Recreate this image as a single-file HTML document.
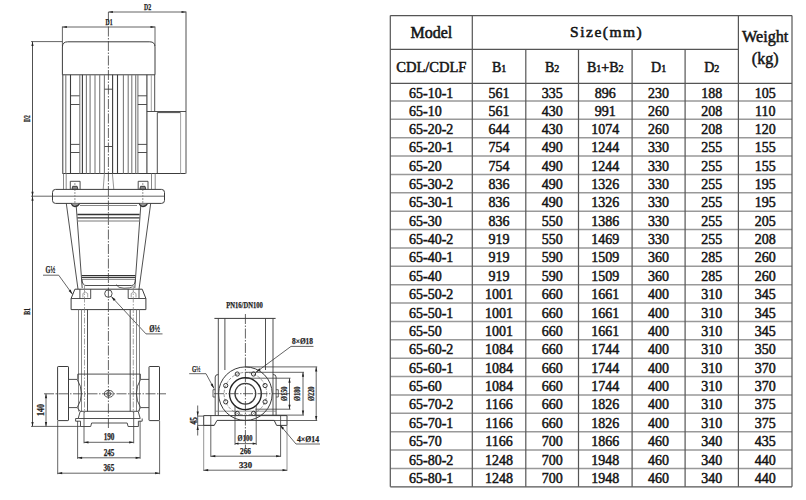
<!DOCTYPE html>
<html><head><meta charset="utf-8">
<style>
html,body{margin:0;padding:0;background:#fff;width:806px;height:500px;overflow:hidden}
svg{display:block;position:absolute;left:0;top:0}
</style></head>
<body>
<svg width="806" height="500" viewBox="0 0 806 500">
<rect width="806" height="500" fill="#fff"/>
<line x1="390.3" y1="15.6" x2="792.0" y2="15.6" stroke="#555" stroke-width="1.2"/>
<line x1="390.3" y1="49.4" x2="738.4" y2="49.4" stroke="#555" stroke-width="1.2"/>
<line x1="390.3" y1="83.3" x2="792.0" y2="83.3" stroke="#555" stroke-width="1.2"/>
<line x1="390.3" y1="486.8" x2="792.0" y2="486.8" stroke="#555" stroke-width="1.2"/>
<line x1="390.3" y1="101.0" x2="792.0" y2="101.0" stroke="#999" stroke-width="1.5"/>
<line x1="390.3" y1="119.37142857142857" x2="792.0" y2="119.37142857142857" stroke="#999" stroke-width="1.5"/>
<line x1="390.3" y1="137.74285714285713" x2="792.0" y2="137.74285714285713" stroke="#999" stroke-width="1.5"/>
<line x1="390.3" y1="156.11428571428573" x2="792.0" y2="156.11428571428573" stroke="#999" stroke-width="1.5"/>
<line x1="390.3" y1="174.4857142857143" x2="792.0" y2="174.4857142857143" stroke="#999" stroke-width="1.5"/>
<line x1="390.3" y1="192.85714285714286" x2="792.0" y2="192.85714285714286" stroke="#999" stroke-width="1.5"/>
<line x1="390.3" y1="211.22857142857146" x2="792.0" y2="211.22857142857146" stroke="#999" stroke-width="1.5"/>
<line x1="390.3" y1="229.60000000000002" x2="792.0" y2="229.60000000000002" stroke="#999" stroke-width="1.5"/>
<line x1="390.3" y1="247.9714285714286" x2="792.0" y2="247.9714285714286" stroke="#999" stroke-width="1.5"/>
<line x1="390.3" y1="266.34285714285716" x2="792.0" y2="266.34285714285716" stroke="#999" stroke-width="1.5"/>
<line x1="390.3" y1="284.7142857142857" x2="792.0" y2="284.7142857142857" stroke="#999" stroke-width="1.5"/>
<line x1="390.3" y1="303.0857142857143" x2="792.0" y2="303.0857142857143" stroke="#999" stroke-width="1.5"/>
<line x1="390.3" y1="321.4571428571429" x2="792.0" y2="321.4571428571429" stroke="#999" stroke-width="1.5"/>
<line x1="390.3" y1="339.8285714285714" x2="792.0" y2="339.8285714285714" stroke="#999" stroke-width="1.5"/>
<line x1="390.3" y1="358.20000000000005" x2="792.0" y2="358.20000000000005" stroke="#999" stroke-width="1.5"/>
<line x1="390.3" y1="376.5714285714286" x2="792.0" y2="376.5714285714286" stroke="#999" stroke-width="1.5"/>
<line x1="390.3" y1="394.9428571428572" x2="792.0" y2="394.9428571428572" stroke="#999" stroke-width="1.5"/>
<line x1="390.3" y1="413.31428571428575" x2="792.0" y2="413.31428571428575" stroke="#999" stroke-width="1.5"/>
<line x1="390.3" y1="431.6857142857143" x2="792.0" y2="431.6857142857143" stroke="#999" stroke-width="1.5"/>
<line x1="390.3" y1="450.0571428571429" x2="792.0" y2="450.0571428571429" stroke="#999" stroke-width="1.5"/>
<line x1="390.3" y1="468.42857142857144" x2="792.0" y2="468.42857142857144" stroke="#999" stroke-width="1.5"/>
<line x1="390.3" y1="15.6" x2="390.3" y2="486.8" stroke="#555" stroke-width="1.2"/>
<line x1="472.3" y1="15.6" x2="472.3" y2="486.8" stroke="#555" stroke-width="1.2"/>
<line x1="525.8" y1="49.4" x2="525.8" y2="486.8" stroke="#555" stroke-width="1.2"/>
<line x1="578.5" y1="49.4" x2="578.5" y2="486.8" stroke="#555" stroke-width="1.2"/>
<line x1="632.1" y1="49.4" x2="632.1" y2="486.8" stroke="#555" stroke-width="1.2"/>
<line x1="685.1" y1="49.4" x2="685.1" y2="486.8" stroke="#555" stroke-width="1.2"/>
<line x1="738.4" y1="15.6" x2="738.4" y2="486.8" stroke="#555" stroke-width="1.2"/>
<line x1="792.0" y1="15.6" x2="792.0" y2="486.8" stroke="#555" stroke-width="1.2"/>
<g font-family="Liberation Serif, serif" fill="#151515" stroke="#151515" stroke-width="0.5" font-weight="normal"><text x="431.3" y="38" font-size="16" text-anchor="middle" stroke-width="0.55">Model</text>
<text x="606.65" y="37" font-size="15.5" text-anchor="middle" letter-spacing="1.5" stroke-width="0.55">Size(mm)</text>
<text x="765.2" y="42" font-size="16.2" text-anchor="middle" >Weight</text>
<text x="765.2" y="64.3" font-size="16" text-anchor="middle" >(kg)</text>
<text x="431.3" y="71.5" font-size="14.5" text-anchor="middle" >CDL/CDLF</text>
<text x="499.04999999999995" y="71.5" font-size="14" text-anchor="middle">B<tspan font-size="10">1</tspan></text>
<text x="552.15" y="71.5" font-size="14" text-anchor="middle">B<tspan font-size="10">2</tspan></text>
<text x="605.3" y="71.5" font-size="14" text-anchor="middle">B<tspan font-size="10">1</tspan>+B<tspan font-size="10">2</tspan></text>
<text x="658.6" y="71.5" font-size="14" text-anchor="middle">D<tspan font-size="10">1</tspan></text>
<text x="711.75" y="71.5" font-size="14" text-anchor="middle">D<tspan font-size="10">2</tspan></text>
<text x="409" y="97.8" font-size="14" text-anchor="start" >65-10-1</text>
<text x="499.04999999999995" y="97.8" font-size="14" text-anchor="middle" >561</text>
<text x="552.15" y="97.8" font-size="14" text-anchor="middle" >335</text>
<text x="605.3" y="97.8" font-size="14" text-anchor="middle" >896</text>
<text x="658.6" y="97.8" font-size="14" text-anchor="middle" >230</text>
<text x="711.75" y="97.8" font-size="14" text-anchor="middle" >188</text>
<text x="765.2" y="97.8" font-size="14" text-anchor="middle" >105</text>
<text x="409" y="115.5" font-size="14" text-anchor="start" >65-10</text>
<text x="499.04999999999995" y="115.5" font-size="14" text-anchor="middle" >561</text>
<text x="552.15" y="115.5" font-size="14" text-anchor="middle" >430</text>
<text x="605.3" y="115.5" font-size="14" text-anchor="middle" >991</text>
<text x="658.6" y="115.5" font-size="14" text-anchor="middle" >260</text>
<text x="711.75" y="115.5" font-size="14" text-anchor="middle" >208</text>
<text x="765.2" y="115.5" font-size="14" text-anchor="middle" >110</text>
<text x="409" y="133.87142857142857" font-size="14" text-anchor="start" >65-20-2</text>
<text x="499.04999999999995" y="133.87142857142857" font-size="14" text-anchor="middle" >644</text>
<text x="552.15" y="133.87142857142857" font-size="14" text-anchor="middle" >430</text>
<text x="605.3" y="133.87142857142857" font-size="14" text-anchor="middle" >1074</text>
<text x="658.6" y="133.87142857142857" font-size="14" text-anchor="middle" >260</text>
<text x="711.75" y="133.87142857142857" font-size="14" text-anchor="middle" >208</text>
<text x="765.2" y="133.87142857142857" font-size="14" text-anchor="middle" >120</text>
<text x="409" y="152.24285714285713" font-size="14" text-anchor="start" >65-20-1</text>
<text x="499.04999999999995" y="152.24285714285713" font-size="14" text-anchor="middle" >754</text>
<text x="552.15" y="152.24285714285713" font-size="14" text-anchor="middle" >490</text>
<text x="605.3" y="152.24285714285713" font-size="14" text-anchor="middle" >1244</text>
<text x="658.6" y="152.24285714285713" font-size="14" text-anchor="middle" >330</text>
<text x="711.75" y="152.24285714285713" font-size="14" text-anchor="middle" >255</text>
<text x="765.2" y="152.24285714285713" font-size="14" text-anchor="middle" >155</text>
<text x="409" y="170.61428571428573" font-size="14" text-anchor="start" >65-20</text>
<text x="499.04999999999995" y="170.61428571428573" font-size="14" text-anchor="middle" >754</text>
<text x="552.15" y="170.61428571428573" font-size="14" text-anchor="middle" >490</text>
<text x="605.3" y="170.61428571428573" font-size="14" text-anchor="middle" >1244</text>
<text x="658.6" y="170.61428571428573" font-size="14" text-anchor="middle" >330</text>
<text x="711.75" y="170.61428571428573" font-size="14" text-anchor="middle" >255</text>
<text x="765.2" y="170.61428571428573" font-size="14" text-anchor="middle" >155</text>
<text x="409" y="188.9857142857143" font-size="14" text-anchor="start" >65-30-2</text>
<text x="499.04999999999995" y="188.9857142857143" font-size="14" text-anchor="middle" >836</text>
<text x="552.15" y="188.9857142857143" font-size="14" text-anchor="middle" >490</text>
<text x="605.3" y="188.9857142857143" font-size="14" text-anchor="middle" >1326</text>
<text x="658.6" y="188.9857142857143" font-size="14" text-anchor="middle" >330</text>
<text x="711.75" y="188.9857142857143" font-size="14" text-anchor="middle" >255</text>
<text x="765.2" y="188.9857142857143" font-size="14" text-anchor="middle" >195</text>
<text x="409" y="207.35714285714286" font-size="14" text-anchor="start" >65-30-1</text>
<text x="499.04999999999995" y="207.35714285714286" font-size="14" text-anchor="middle" >836</text>
<text x="552.15" y="207.35714285714286" font-size="14" text-anchor="middle" >490</text>
<text x="605.3" y="207.35714285714286" font-size="14" text-anchor="middle" >1326</text>
<text x="658.6" y="207.35714285714286" font-size="14" text-anchor="middle" >330</text>
<text x="711.75" y="207.35714285714286" font-size="14" text-anchor="middle" >255</text>
<text x="765.2" y="207.35714285714286" font-size="14" text-anchor="middle" >195</text>
<text x="409" y="225.72857142857146" font-size="14" text-anchor="start" >65-30</text>
<text x="499.04999999999995" y="225.72857142857146" font-size="14" text-anchor="middle" >836</text>
<text x="552.15" y="225.72857142857146" font-size="14" text-anchor="middle" >550</text>
<text x="605.3" y="225.72857142857146" font-size="14" text-anchor="middle" >1386</text>
<text x="658.6" y="225.72857142857146" font-size="14" text-anchor="middle" >330</text>
<text x="711.75" y="225.72857142857146" font-size="14" text-anchor="middle" >255</text>
<text x="765.2" y="225.72857142857146" font-size="14" text-anchor="middle" >205</text>
<text x="409" y="244.10000000000002" font-size="14" text-anchor="start" >65-40-2</text>
<text x="499.04999999999995" y="244.10000000000002" font-size="14" text-anchor="middle" >919</text>
<text x="552.15" y="244.10000000000002" font-size="14" text-anchor="middle" >550</text>
<text x="605.3" y="244.10000000000002" font-size="14" text-anchor="middle" >1469</text>
<text x="658.6" y="244.10000000000002" font-size="14" text-anchor="middle" >330</text>
<text x="711.75" y="244.10000000000002" font-size="14" text-anchor="middle" >255</text>
<text x="765.2" y="244.10000000000002" font-size="14" text-anchor="middle" >208</text>
<text x="409" y="262.4714285714286" font-size="14" text-anchor="start" >65-40-1</text>
<text x="499.04999999999995" y="262.4714285714286" font-size="14" text-anchor="middle" >919</text>
<text x="552.15" y="262.4714285714286" font-size="14" text-anchor="middle" >590</text>
<text x="605.3" y="262.4714285714286" font-size="14" text-anchor="middle" >1509</text>
<text x="658.6" y="262.4714285714286" font-size="14" text-anchor="middle" >360</text>
<text x="711.75" y="262.4714285714286" font-size="14" text-anchor="middle" >285</text>
<text x="765.2" y="262.4714285714286" font-size="14" text-anchor="middle" >260</text>
<text x="409" y="280.84285714285716" font-size="14" text-anchor="start" >65-40</text>
<text x="499.04999999999995" y="280.84285714285716" font-size="14" text-anchor="middle" >919</text>
<text x="552.15" y="280.84285714285716" font-size="14" text-anchor="middle" >590</text>
<text x="605.3" y="280.84285714285716" font-size="14" text-anchor="middle" >1509</text>
<text x="658.6" y="280.84285714285716" font-size="14" text-anchor="middle" >360</text>
<text x="711.75" y="280.84285714285716" font-size="14" text-anchor="middle" >285</text>
<text x="765.2" y="280.84285714285716" font-size="14" text-anchor="middle" >260</text>
<text x="409" y="299.2142857142857" font-size="14" text-anchor="start" >65-50-2</text>
<text x="499.04999999999995" y="299.2142857142857" font-size="14" text-anchor="middle" >1001</text>
<text x="552.15" y="299.2142857142857" font-size="14" text-anchor="middle" >660</text>
<text x="605.3" y="299.2142857142857" font-size="14" text-anchor="middle" >1661</text>
<text x="658.6" y="299.2142857142857" font-size="14" text-anchor="middle" >400</text>
<text x="711.75" y="299.2142857142857" font-size="14" text-anchor="middle" >310</text>
<text x="765.2" y="299.2142857142857" font-size="14" text-anchor="middle" >345</text>
<text x="409" y="317.5857142857143" font-size="14" text-anchor="start" >65-50-1</text>
<text x="499.04999999999995" y="317.5857142857143" font-size="14" text-anchor="middle" >1001</text>
<text x="552.15" y="317.5857142857143" font-size="14" text-anchor="middle" >660</text>
<text x="605.3" y="317.5857142857143" font-size="14" text-anchor="middle" >1661</text>
<text x="658.6" y="317.5857142857143" font-size="14" text-anchor="middle" >400</text>
<text x="711.75" y="317.5857142857143" font-size="14" text-anchor="middle" >310</text>
<text x="765.2" y="317.5857142857143" font-size="14" text-anchor="middle" >345</text>
<text x="409" y="335.9571428571429" font-size="14" text-anchor="start" >65-50</text>
<text x="499.04999999999995" y="335.9571428571429" font-size="14" text-anchor="middle" >1001</text>
<text x="552.15" y="335.9571428571429" font-size="14" text-anchor="middle" >660</text>
<text x="605.3" y="335.9571428571429" font-size="14" text-anchor="middle" >1661</text>
<text x="658.6" y="335.9571428571429" font-size="14" text-anchor="middle" >400</text>
<text x="711.75" y="335.9571428571429" font-size="14" text-anchor="middle" >310</text>
<text x="765.2" y="335.9571428571429" font-size="14" text-anchor="middle" >345</text>
<text x="409" y="354.3285714285714" font-size="14" text-anchor="start" >65-60-2</text>
<text x="499.04999999999995" y="354.3285714285714" font-size="14" text-anchor="middle" >1084</text>
<text x="552.15" y="354.3285714285714" font-size="14" text-anchor="middle" >660</text>
<text x="605.3" y="354.3285714285714" font-size="14" text-anchor="middle" >1744</text>
<text x="658.6" y="354.3285714285714" font-size="14" text-anchor="middle" >400</text>
<text x="711.75" y="354.3285714285714" font-size="14" text-anchor="middle" >310</text>
<text x="765.2" y="354.3285714285714" font-size="14" text-anchor="middle" >350</text>
<text x="409" y="372.70000000000005" font-size="14" text-anchor="start" >65-60-1</text>
<text x="499.04999999999995" y="372.70000000000005" font-size="14" text-anchor="middle" >1084</text>
<text x="552.15" y="372.70000000000005" font-size="14" text-anchor="middle" >660</text>
<text x="605.3" y="372.70000000000005" font-size="14" text-anchor="middle" >1744</text>
<text x="658.6" y="372.70000000000005" font-size="14" text-anchor="middle" >400</text>
<text x="711.75" y="372.70000000000005" font-size="14" text-anchor="middle" >310</text>
<text x="765.2" y="372.70000000000005" font-size="14" text-anchor="middle" >370</text>
<text x="409" y="391.0714285714286" font-size="14" text-anchor="start" >65-60</text>
<text x="499.04999999999995" y="391.0714285714286" font-size="14" text-anchor="middle" >1084</text>
<text x="552.15" y="391.0714285714286" font-size="14" text-anchor="middle" >660</text>
<text x="605.3" y="391.0714285714286" font-size="14" text-anchor="middle" >1744</text>
<text x="658.6" y="391.0714285714286" font-size="14" text-anchor="middle" >400</text>
<text x="711.75" y="391.0714285714286" font-size="14" text-anchor="middle" >310</text>
<text x="765.2" y="391.0714285714286" font-size="14" text-anchor="middle" >370</text>
<text x="409" y="409.4428571428572" font-size="14" text-anchor="start" >65-70-2</text>
<text x="499.04999999999995" y="409.4428571428572" font-size="14" text-anchor="middle" >1166</text>
<text x="552.15" y="409.4428571428572" font-size="14" text-anchor="middle" >660</text>
<text x="605.3" y="409.4428571428572" font-size="14" text-anchor="middle" >1826</text>
<text x="658.6" y="409.4428571428572" font-size="14" text-anchor="middle" >400</text>
<text x="711.75" y="409.4428571428572" font-size="14" text-anchor="middle" >310</text>
<text x="765.2" y="409.4428571428572" font-size="14" text-anchor="middle" >375</text>
<text x="409" y="427.81428571428575" font-size="14" text-anchor="start" >65-70-1</text>
<text x="499.04999999999995" y="427.81428571428575" font-size="14" text-anchor="middle" >1166</text>
<text x="552.15" y="427.81428571428575" font-size="14" text-anchor="middle" >660</text>
<text x="605.3" y="427.81428571428575" font-size="14" text-anchor="middle" >1826</text>
<text x="658.6" y="427.81428571428575" font-size="14" text-anchor="middle" >400</text>
<text x="711.75" y="427.81428571428575" font-size="14" text-anchor="middle" >310</text>
<text x="765.2" y="427.81428571428575" font-size="14" text-anchor="middle" >375</text>
<text x="409" y="446.1857142857143" font-size="14" text-anchor="start" >65-70</text>
<text x="499.04999999999995" y="446.1857142857143" font-size="14" text-anchor="middle" >1166</text>
<text x="552.15" y="446.1857142857143" font-size="14" text-anchor="middle" >700</text>
<text x="605.3" y="446.1857142857143" font-size="14" text-anchor="middle" >1866</text>
<text x="658.6" y="446.1857142857143" font-size="14" text-anchor="middle" >460</text>
<text x="711.75" y="446.1857142857143" font-size="14" text-anchor="middle" >340</text>
<text x="765.2" y="446.1857142857143" font-size="14" text-anchor="middle" >435</text>
<text x="409" y="464.5571428571429" font-size="14" text-anchor="start" >65-80-2</text>
<text x="499.04999999999995" y="464.5571428571429" font-size="14" text-anchor="middle" >1248</text>
<text x="552.15" y="464.5571428571429" font-size="14" text-anchor="middle" >700</text>
<text x="605.3" y="464.5571428571429" font-size="14" text-anchor="middle" >1948</text>
<text x="658.6" y="464.5571428571429" font-size="14" text-anchor="middle" >460</text>
<text x="711.75" y="464.5571428571429" font-size="14" text-anchor="middle" >340</text>
<text x="765.2" y="464.5571428571429" font-size="14" text-anchor="middle" >440</text>
<text x="409" y="482.92857142857144" font-size="14" text-anchor="start" >65-80-1</text>
<text x="499.04999999999995" y="482.92857142857144" font-size="14" text-anchor="middle" >1248</text>
<text x="552.15" y="482.92857142857144" font-size="14" text-anchor="middle" >700</text>
<text x="605.3" y="482.92857142857144" font-size="14" text-anchor="middle" >1948</text>
<text x="658.6" y="482.92857142857144" font-size="14" text-anchor="middle" >460</text>
<text x="711.75" y="482.92857142857144" font-size="14" text-anchor="middle" >340</text>
<text x="765.2" y="482.92857142857144" font-size="14" text-anchor="middle" >440</text></g>
<g font-family="Liberation Serif, serif" stroke-linecap="butt">
<line x1="108.40" y1="12.00" x2="108.40" y2="428.00" stroke="#3c3c3c" stroke-width="0.8" stroke-dasharray="10 1.5 1.5 1.5"/>
<line x1="108.40" y1="12.00" x2="186.00" y2="12.00" stroke="#3c3c3c" stroke-width="0.8"/>
<path d="M108.40,12.00 L112.90,10.90 L112.90,13.10 Z" fill="#222" stroke="none"/>
<path d="M186.00,12.00 L181.50,13.10 L181.50,10.90 Z" fill="#222" stroke="none"/>
<text x="147.6" y="10.2" font-size="9" text-anchor="middle" fill="#1e1e1e" stroke="#1e1e1e" stroke-width="0.25" font-weight="bold" textLength="7.2" lengthAdjust="spacingAndGlyphs">D2</text>
<line x1="186.00" y1="11.50" x2="186.00" y2="173.60" stroke="#3c3c3c" stroke-width="0.9"/>
<line x1="62.40" y1="27.00" x2="155.00" y2="27.00" stroke="#3c3c3c" stroke-width="0.8"/>
<path d="M62.40,27.00 L66.90,25.90 L66.90,28.10 Z" fill="#222" stroke="none"/>
<path d="M155.00,27.00 L150.50,28.10 L150.50,25.90 Z" fill="#222" stroke="none"/>
<text x="109" y="25.2" font-size="9" text-anchor="middle" fill="#1e1e1e" stroke="#1e1e1e" stroke-width="0.25" font-weight="bold" textLength="7" lengthAdjust="spacingAndGlyphs">D1</text>
<line x1="62.40" y1="26.50" x2="62.40" y2="46.00" stroke="#3c3c3c" stroke-width="0.8"/>
<line x1="155.00" y1="26.50" x2="155.00" y2="46.00" stroke="#3c3c3c" stroke-width="0.8"/>
<line x1="31.00" y1="41.60" x2="62.40" y2="41.60" stroke="#3c3c3c" stroke-width="0.8"/>
<line x1="32.50" y1="41.60" x2="32.50" y2="426.40" stroke="#3c3c3c" stroke-width="0.9"/>
<path d="M32.50,41.60 L33.60,46.10 L31.40,46.10 Z" fill="#222" stroke="none"/>
<path d="M32.50,196.20 L31.40,191.70 L33.60,191.70 Z" fill="#222" stroke="none"/>
<path d="M32.50,196.20 L33.60,200.70 L31.40,200.70 Z" fill="#222" stroke="none"/>
<path d="M32.50,426.40 L31.40,421.90 L33.60,421.90 Z" fill="#222" stroke="none"/>
<line x1="31.00" y1="196.20" x2="164.50" y2="196.20" stroke="#3c3c3c" stroke-width="0.8"/>
<line x1="31.00" y1="426.40" x2="80.50" y2="426.40" stroke="#3c3c3c" stroke-width="0.8"/>
<text x="29.8" y="118.6" font-size="9" text-anchor="middle" fill="#1e1e1e" stroke="#1e1e1e" stroke-width="0.25" font-weight="bold" textLength="6.8" lengthAdjust="spacingAndGlyphs" transform="rotate(-90 29.8 118.6)">D2</text>
<text x="30" y="311.4" font-size="9" text-anchor="middle" fill="#1e1e1e" stroke="#1e1e1e" stroke-width="0.25" font-weight="bold" textLength="6.8" lengthAdjust="spacingAndGlyphs" transform="rotate(-90 30 311.4)">B1</text>
<path d="M62.4,74.8 V47 Q62.4,41.8 67.6,41.8 H149.8 Q155,41.8 155,47 V74.8" stroke="#3c3c3c" stroke-width="1.0" fill="none"/>
<line x1="62.40" y1="74.80" x2="155.00" y2="74.80" stroke="#3c3c3c" stroke-width="1.0"/>
<line x1="62.80" y1="74.80" x2="62.80" y2="173.50" stroke="#3c3c3c" stroke-width="1.0"/>
<line x1="62.50" y1="173.50" x2="185.60" y2="173.50" stroke="#3c3c3c" stroke-width="1.0"/>
<line x1="65.80" y1="74.80" x2="65.80" y2="173.50" stroke="#7a7a7a" stroke-width="1.1"/>
<line x1="70.50" y1="74.80" x2="70.50" y2="173.50" stroke="#3c3c3c" stroke-width="1.1"/>
<line x1="79.80" y1="74.80" x2="79.80" y2="173.50" stroke="#7a7a7a" stroke-width="1.1"/>
<line x1="82.40" y1="74.80" x2="82.40" y2="173.50" stroke="#3c3c3c" stroke-width="1.1"/>
<line x1="86.40" y1="74.80" x2="86.40" y2="173.50" stroke="#7a7a7a" stroke-width="1.1"/>
<line x1="90.10" y1="74.80" x2="90.10" y2="173.50" stroke="#7a7a7a" stroke-width="1.1"/>
<line x1="95.00" y1="74.80" x2="95.00" y2="173.50" stroke="#7a7a7a" stroke-width="1.1"/>
<line x1="99.70" y1="74.80" x2="99.70" y2="173.50" stroke="#7a7a7a" stroke-width="1.1"/>
<line x1="104.40" y1="74.80" x2="104.40" y2="173.50" stroke="#7a7a7a" stroke-width="1.1"/>
<line x1="112.60" y1="74.80" x2="112.60" y2="173.50" stroke="#3c3c3c" stroke-width="1.1"/>
<line x1="117.50" y1="74.80" x2="117.50" y2="173.50" stroke="#3c3c3c" stroke-width="1.1"/>
<line x1="123.40" y1="74.80" x2="123.40" y2="173.50" stroke="#7a7a7a" stroke-width="1.1"/>
<line x1="128.20" y1="74.80" x2="128.20" y2="173.50" stroke="#7a7a7a" stroke-width="1.1"/>
<line x1="131.80" y1="74.80" x2="131.80" y2="173.50" stroke="#7a7a7a" stroke-width="1.1"/>
<line x1="135.70" y1="74.80" x2="135.70" y2="173.50" stroke="#7a7a7a" stroke-width="1.1"/>
<line x1="137.90" y1="74.80" x2="137.90" y2="173.50" stroke="#7a7a7a" stroke-width="1.1"/>
<line x1="146.90" y1="74.80" x2="146.90" y2="173.50" stroke="#3c3c3c" stroke-width="1.1"/>
<line x1="151.30" y1="74.80" x2="151.30" y2="111.50" stroke="#9a9a9a" stroke-width="0.9"/>
<line x1="154.70" y1="74.80" x2="154.70" y2="111.50" stroke="#3c3c3c" stroke-width="0.9"/>
<line x1="70.50" y1="95.80" x2="79.50" y2="95.80" stroke="#3c3c3c" stroke-width="0.9"/>
<line x1="137.90" y1="95.80" x2="146.90" y2="95.80" stroke="#3c3c3c" stroke-width="0.9"/>
<line x1="70.50" y1="104.50" x2="79.50" y2="104.50" stroke="#3c3c3c" stroke-width="0.9"/>
<line x1="137.90" y1="104.50" x2="146.90" y2="104.50" stroke="#3c3c3c" stroke-width="0.9"/>
<line x1="70.50" y1="144.40" x2="79.50" y2="144.40" stroke="#3c3c3c" stroke-width="0.9"/>
<line x1="137.90" y1="144.40" x2="146.90" y2="144.40" stroke="#3c3c3c" stroke-width="0.9"/>
<line x1="70.50" y1="152.50" x2="79.50" y2="152.50" stroke="#3c3c3c" stroke-width="0.9"/>
<line x1="137.90" y1="152.50" x2="146.90" y2="152.50" stroke="#3c3c3c" stroke-width="0.9"/>
<line x1="104.50" y1="89.20" x2="112.60" y2="89.20" stroke="#3c3c3c" stroke-width="0.9"/>
<line x1="104.50" y1="146.50" x2="112.60" y2="146.50" stroke="#3c3c3c" stroke-width="0.9"/>
<line x1="146.90" y1="111.50" x2="186.00" y2="111.50" stroke="#3c3c3c" stroke-width="0.9"/>
<line x1="157.30" y1="112.60" x2="180.60" y2="112.60" stroke="#3c3c3c" stroke-width="0.9"/>
<line x1="157.30" y1="112.60" x2="157.30" y2="173.50" stroke="#3c3c3c" stroke-width="0.9"/>
<line x1="180.60" y1="112.60" x2="180.60" y2="173.50" stroke="#9a9a9a" stroke-width="0.9"/>
<line x1="63.50" y1="173.50" x2="63.50" y2="189.40" stroke="#7a7a7a" stroke-width="0.9"/>
<line x1="66.20" y1="173.50" x2="66.20" y2="189.40" stroke="#7a7a7a" stroke-width="0.9"/>
<line x1="151.50" y1="173.50" x2="151.50" y2="189.40" stroke="#7a7a7a" stroke-width="0.9"/>
<line x1="155.20" y1="173.50" x2="155.20" y2="189.40" stroke="#7a7a7a" stroke-width="0.9"/>
<line x1="104.40" y1="173.50" x2="103.20" y2="189.40" stroke="#7a7a7a" stroke-width="0.8"/>
<line x1="112.40" y1="173.50" x2="113.80" y2="189.40" stroke="#7a7a7a" stroke-width="0.8"/>
<path d="M70.3,189.4 V181.3 H80.1 V189.4" stroke="#3c3c3c" stroke-width="0.9" fill="none"/>
<path d="M138.2,189.4 V181.3 H148.0 V189.4" stroke="#3c3c3c" stroke-width="0.9" fill="none"/>
<path d="M55.5,189.4 H161.5 Q164.5,189.4 164.5,192.4 V200.4 Q164.5,203.4 161.5,203.4 H55.5 Q52.5,203.4 52.5,200.4 V192.4 Q52.5,189.4 55.5,189.4 Z" stroke="#3c3c3c" stroke-width="1.0" fill="none"/>
<line x1="74.90" y1="183.00" x2="74.90" y2="207.00" stroke="#7a7a7a" stroke-width="0.8" stroke-dasharray="2 1"/>
<path d="M71.9,189.3 L72.7,186.3 H77.10000000000001 L77.9,189.3 Z" stroke="#333" stroke-width="0.9" fill="#888"/>
<path d="M71.30000000000001,203.4 Q72.30000000000001,206.6 74.9,206.6 Q77.7,206.6 79.5,203.6" stroke="#333" stroke-width="1.1" fill="#999"/>
<line x1="142.80" y1="183.00" x2="142.80" y2="207.00" stroke="#7a7a7a" stroke-width="0.8" stroke-dasharray="2 1"/>
<path d="M139.8,189.3 L140.60000000000002,186.3 H145.0 L145.8,189.3 Z" stroke="#333" stroke-width="0.9" fill="#888"/>
<path d="M139.20000000000002,203.4 Q140.20000000000002,206.6 142.8,206.6 Q145.60000000000002,206.6 147.4,203.6" stroke="#333" stroke-width="1.1" fill="#999"/>
<line x1="80.00" y1="205.50" x2="137.00" y2="205.50" stroke="#7a7a7a" stroke-width="0.9"/>
<line x1="66.30" y1="203.40" x2="78.00" y2="289.20" stroke="#3c3c3c" stroke-width="0.9"/>
<line x1="76.20" y1="205.50" x2="82.20" y2="288.00" stroke="#3c3c3c" stroke-width="0.9"/>
<line x1="150.70" y1="203.40" x2="139.00" y2="289.20" stroke="#3c3c3c" stroke-width="0.9"/>
<line x1="140.80" y1="205.50" x2="134.80" y2="288.00" stroke="#3c3c3c" stroke-width="0.9"/>
<line x1="77.40" y1="214.50" x2="139.60" y2="214.50" stroke="#333" stroke-width="1.3"/>
<line x1="77.40" y1="217.80" x2="139.60" y2="217.80" stroke="#333" stroke-width="1.3"/>
<line x1="77.40" y1="221.00" x2="139.60" y2="221.00" stroke="#7a7a7a" stroke-width="1.1"/>
<line x1="81.70" y1="275.60" x2="135.40" y2="275.60" stroke="#333" stroke-width="1.2"/>
<line x1="81.70" y1="277.50" x2="135.40" y2="277.50" stroke="#3c3c3c" stroke-width="1.0"/>
<line x1="81.70" y1="279.30" x2="135.40" y2="279.30" stroke="#7a7a7a" stroke-width="1.0"/>
<path d="M81.9,279.3 Q82.3,285.5 86,285.5 H131.5 Q135.2,285.5 135.5,279.3" stroke="#3c3c3c" stroke-width="0.9" fill="none"/>
<path d="M116,284.6 Q118,288.2 124,288.2 Q130.5,288.2 132.5,286.8" stroke="#3c3c3c" stroke-width="0.8" fill="none"/>
<path d="M74.9,289.2 H142.2 L145.9,298.5 V309.6 H71.1 V298.5 Z" stroke="#3c3c3c" stroke-width="1.0" fill="none"/>
<line x1="71.10" y1="298.50" x2="90.70" y2="298.50" stroke="#3c3c3c" stroke-width="0.9"/>
<line x1="128.20" y1="298.50" x2="145.90" y2="298.50" stroke="#3c3c3c" stroke-width="0.9"/>
<path d="M79.9,289.2 V298.5 M90.7,289.2 V298.5" stroke="#3c3c3c" stroke-width="0.9" fill="none"/>
<path d="M82.9,297.5 V293.5 L85.30000000000001,292 L87.7,293.5 V297.5" stroke="#7a7a7a" stroke-width="0.7" fill="none"/>
<path d="M128.2,289.2 V298.5 M139.0,289.2 V298.5" stroke="#3c3c3c" stroke-width="0.9" fill="none"/>
<path d="M131.2,297.5 V293.5 L133.6,292 L136.0,293.5 V297.5" stroke="#7a7a7a" stroke-width="0.7" fill="none"/>
<circle cx="108.40" cy="293.60" r="3.70" stroke="#3c3c3c" stroke-width="0.9" fill="none"/>
<line x1="43.00" y1="275.20" x2="58.70" y2="275.20" stroke="#3c3c3c" stroke-width="0.8"/>
<line x1="58.70" y1="275.20" x2="72.50" y2="294.30" stroke="#3c3c3c" stroke-width="0.8"/>
<path d="M72.50,294.30 L68.60,290.95 L70.54,289.54 Z" fill="#222" stroke="none"/>
<text x="50.4" y="273.4" font-size="9.5" text-anchor="middle" fill="#1e1e1e" stroke="#1e1e1e" stroke-width="0.25" font-weight="bold" textLength="9.6" lengthAdjust="spacingAndGlyphs">G½</text>
<line x1="111.30" y1="296.50" x2="146.00" y2="333.90" stroke="#3c3c3c" stroke-width="0.8"/>
<path d="M111.30,296.50 L115.58,299.35 L113.82,300.98 Z" fill="#222" stroke="none"/>
<line x1="146.00" y1="333.90" x2="162.50" y2="333.90" stroke="#3c3c3c" stroke-width="0.8"/>
<text x="154.6" y="332" font-size="9.5" text-anchor="middle" fill="#1e1e1e" stroke="#1e1e1e" stroke-width="0.25" font-weight="bold" textLength="10.5" lengthAdjust="spacingAndGlyphs">Ø½</text>
<line x1="78.50" y1="309.60" x2="78.50" y2="411.50" stroke="#7a7a7a" stroke-width="0.9"/>
<line x1="81.50" y1="309.60" x2="81.50" y2="411.50" stroke="#7a7a7a" stroke-width="0.9"/>
<line x1="87.50" y1="309.60" x2="87.50" y2="411.50" stroke="#3c3c3c" stroke-width="0.9"/>
<line x1="130.20" y1="309.60" x2="130.20" y2="411.50" stroke="#3c3c3c" stroke-width="0.9"/>
<line x1="136.50" y1="309.60" x2="136.50" y2="411.50" stroke="#7a7a7a" stroke-width="0.9"/>
<line x1="139.50" y1="309.60" x2="139.50" y2="411.50" stroke="#7a7a7a" stroke-width="0.9"/>
<line x1="84.50" y1="286.00" x2="84.50" y2="413.00" stroke="#7a7a7a" stroke-width="0.7" stroke-dasharray="6 1.5 1.5 1.5"/>
<line x1="133.30" y1="286.00" x2="133.30" y2="413.00" stroke="#7a7a7a" stroke-width="0.7" stroke-dasharray="6 1.5 1.5 1.5"/>
<line x1="77.80" y1="374.10" x2="140.40" y2="374.10" stroke="#3c3c3c" stroke-width="0.9"/>
<path d="M58.2,366.5 H67.9 Q68.5,366.5 68.5,367.1 V420 Q68.5,420.6 67.9,420.6 H58.2 Q57.6,420.6 57.6,420 V367.1 Q57.6,366.5 58.2,366.5 Z" stroke="#3c3c3c" stroke-width="1.0" fill="none"/>
<path d="M149.6,366.5 H158.9 Q159.5,366.5 159.5,367.1 V420 Q159.5,420.6 158.9,420.6 H149.6 Q149,420.6 149,420 V367.1 Q149,366.5 149.6,366.5 Z" stroke="#3c3c3c" stroke-width="1.0" fill="none"/>
<path d="M68.5,379.4 H77.2 Q81.4,386 81.4,393.7 Q81.4,401 77.2,407.6 H68.5" stroke="#3c3c3c" stroke-width="0.9" fill="none"/>
<path d="M77.8,374.1 V379.4" stroke="#3c3c3c" stroke-width="0.9" fill="none"/>
<path d="M149,379.4 H140.6 Q136.4,386 136.4,393.7 Q136.4,401 140.6,407.6 H149" stroke="#3c3c3c" stroke-width="0.9" fill="none"/>
<path d="M140.4,374.1 V379.4" stroke="#3c3c3c" stroke-width="0.9" fill="none"/>
<ellipse cx="108.8" cy="393.8" rx="4.4" ry="3.4" stroke="#3c3c3c" stroke-width="0.9" fill="none"/>
<circle cx="108.80" cy="393.80" r="2.00" stroke="#3c3c3c" stroke-width="0.8" fill="none"/>
<line x1="44.00" y1="393.80" x2="166.00" y2="393.80" stroke="#3c3c3c" stroke-width="0.8" stroke-dasharray="10 1.5 1.5 1.5"/>
<path d="M80.2,411.3 H138.2 L140.2,418.5 H78.2 Z" stroke="#3c3c3c" stroke-width="0.9" fill="none"/>
<path d="M78.2,418.5 H75.6 V421.2 H80.5 V426.5 H90.7 L91.6,423 H127.2 L128.1,426.5 H138.4 V421.2 H142.2 V418.5" stroke="#3c3c3c" stroke-width="0.9" fill="none"/>
<path d="M80.2,411.3 L77.2,407.6" stroke="#3c3c3c" stroke-width="0.8" fill="none"/>
<path d="M138.2,411.3 L140.6,407.6" stroke="#3c3c3c" stroke-width="0.8" fill="none"/>
<line x1="46.00" y1="393.80" x2="46.00" y2="426.40" stroke="#3c3c3c" stroke-width="0.8"/>
<path d="M46.00,393.80 L47.10,398.30 L44.90,398.30 Z" fill="#222" stroke="none"/>
<path d="M46.00,426.40 L44.90,421.90 L47.10,421.90 Z" fill="#222" stroke="none"/>
<text x="44.2" y="410" font-size="9.5" text-anchor="middle" fill="#1e1e1e" stroke="#1e1e1e" stroke-width="0.25" font-weight="bold" textLength="12" lengthAdjust="spacingAndGlyphs" transform="rotate(-90 44.2 410)">140</text>
<line x1="84.00" y1="412.00" x2="84.00" y2="443.30" stroke="#3c3c3c" stroke-width="0.8"/>
<line x1="133.70" y1="412.00" x2="133.70" y2="443.30" stroke="#3c3c3c" stroke-width="0.8"/>
<line x1="84.00" y1="442.30" x2="133.70" y2="442.30" stroke="#3c3c3c" stroke-width="0.8"/>
<path d="M84.00,442.30 L88.50,441.20 L88.50,443.40 Z" fill="#222" stroke="none"/>
<path d="M133.70,442.30 L129.20,443.40 L129.20,441.20 Z" fill="#222" stroke="none"/>
<text x="109.05" y="440.2" font-size="9.5" text-anchor="middle" fill="#1e1e1e" stroke="#1e1e1e" stroke-width="0.25" font-weight="bold" textLength="10.8" lengthAdjust="spacingAndGlyphs">190</text>
<line x1="77.60" y1="421.00" x2="77.60" y2="458.80" stroke="#3c3c3c" stroke-width="0.8"/>
<line x1="140.10" y1="421.00" x2="140.10" y2="458.80" stroke="#3c3c3c" stroke-width="0.8"/>
<line x1="77.60" y1="457.80" x2="140.10" y2="457.80" stroke="#3c3c3c" stroke-width="0.8"/>
<path d="M77.60,457.80 L82.10,456.70 L82.10,458.90 Z" fill="#222" stroke="none"/>
<path d="M140.10,457.80 L135.60,458.90 L135.60,456.70 Z" fill="#222" stroke="none"/>
<text x="109.05" y="455.8" font-size="9.5" text-anchor="middle" fill="#1e1e1e" stroke="#1e1e1e" stroke-width="0.25" font-weight="bold" textLength="10.8" lengthAdjust="spacingAndGlyphs">245</text>
<line x1="57.70" y1="421.00" x2="57.70" y2="474.20" stroke="#3c3c3c" stroke-width="0.8"/>
<line x1="159.60" y1="421.00" x2="159.60" y2="474.20" stroke="#3c3c3c" stroke-width="0.8"/>
<line x1="57.70" y1="473.20" x2="159.60" y2="473.20" stroke="#3c3c3c" stroke-width="0.8"/>
<path d="M57.70,473.20 L62.20,472.10 L62.20,474.30 Z" fill="#222" stroke="none"/>
<path d="M159.60,473.20 L155.10,474.30 L155.10,472.10 Z" fill="#222" stroke="none"/>
<text x="108.85000000000001" y="470.8" font-size="9.5" text-anchor="middle" fill="#1e1e1e" stroke="#1e1e1e" stroke-width="0.25" font-weight="bold" textLength="10.8" lengthAdjust="spacingAndGlyphs">365</text>
<text x="244.5" y="307.8" font-size="9" text-anchor="middle" fill="#1e1e1e" stroke="#1e1e1e" stroke-width="0.25" font-weight="bold" textLength="36.6" lengthAdjust="spacingAndGlyphs">PN16/DN100</text>
<line x1="245.40" y1="314.00" x2="245.40" y2="448.00" stroke="#3c3c3c" stroke-width="0.8" stroke-dasharray="10 1.5 1.5 1.5"/>
<line x1="214.40" y1="318.40" x2="275.60" y2="318.40" stroke="#3c3c3c" stroke-width="1.0"/>
<line x1="218.30" y1="318.40" x2="218.30" y2="415.60" stroke="#3c3c3c" stroke-width="0.9"/>
<line x1="224.90" y1="318.40" x2="224.90" y2="370.00" stroke="#3c3c3c" stroke-width="0.9"/>
<line x1="265.50" y1="318.40" x2="265.50" y2="370.00" stroke="#3c3c3c" stroke-width="0.9"/>
<line x1="273.00" y1="318.40" x2="273.00" y2="415.60" stroke="#3c3c3c" stroke-width="0.9"/>
<path d="M215.2,415.6 V377 Q215.2,374.5 218.3,374.5" stroke="#3c3c3c" stroke-width="0.9" fill="none"/>
<path d="M276.1,415.6 V377 Q276.1,374.5 273,374.5" stroke="#3c3c3c" stroke-width="0.9" fill="none"/>
<path d="M215.2,389.7 H213 V397 H215.2" stroke="#3c3c3c" stroke-width="0.8" fill="none"/>
<path d="M276.1,389.7 H278.3 V397 H276.1" stroke="#3c3c3c" stroke-width="0.8" fill="none"/>
<line x1="215.20" y1="411.20" x2="276.00" y2="411.20" stroke="#7a7a7a" stroke-width="0.8"/>
<circle cx="245.40" cy="393.70" r="26.80" stroke="#3c3c3c" stroke-width="1.0" fill="none"/>
<circle cx="245.40" cy="393.70" r="15.90" stroke="#222" stroke-width="1.4" fill="none"/>
<circle cx="245.40" cy="393.70" r="10.40" stroke="#3c3c3c" stroke-width="1.3" fill="none"/>
<circle cx="245.4" cy="393.7" r="21.3" stroke="#7a7a7a" stroke-width="0.8" fill="none" stroke-dasharray="3 1.5"/>
<circle cx="265.08" cy="401.85" r="2.10" stroke="#333" stroke-width="1.0" fill="none"/>
<circle cx="253.55" cy="413.38" r="2.10" stroke="#333" stroke-width="1.0" fill="none"/>
<circle cx="237.25" cy="413.38" r="2.10" stroke="#333" stroke-width="1.0" fill="none"/>
<circle cx="225.72" cy="401.85" r="2.10" stroke="#333" stroke-width="1.0" fill="none"/>
<circle cx="225.72" cy="385.55" r="2.10" stroke="#333" stroke-width="1.0" fill="none"/>
<circle cx="237.25" cy="374.02" r="2.10" stroke="#333" stroke-width="1.0" fill="none"/>
<circle cx="253.55" cy="374.02" r="2.10" stroke="#333" stroke-width="1.0" fill="none"/>
<circle cx="265.08" cy="385.55" r="2.10" stroke="#333" stroke-width="1.0" fill="none"/>
<line x1="214.00" y1="393.70" x2="290.00" y2="393.70" stroke="#3c3c3c" stroke-width="0.8" stroke-dasharray="10 1.5 1.5 1.5"/>
<path d="M203.7,415.6 H287 V425.4 H276.6 L274.2,420.4 H217 L214.2,425.4 H203.7 Z" stroke="#3c3c3c" stroke-width="1.0" fill="none"/>
<line x1="210.80" y1="415.60" x2="210.80" y2="456.80" stroke="#3c3c3c" stroke-width="0.8"/>
<line x1="280.60" y1="415.60" x2="280.60" y2="456.80" stroke="#3c3c3c" stroke-width="0.8"/>
<line x1="203.70" y1="425.40" x2="203.70" y2="471.00" stroke="#7a7a7a" stroke-width="0.8"/>
<line x1="287.00" y1="425.40" x2="287.00" y2="471.00" stroke="#7a7a7a" stroke-width="0.8"/>
<line x1="197.70" y1="405.50" x2="197.70" y2="435.50" stroke="#3c3c3c" stroke-width="0.8"/>
<path d="M197.70,416.10 L196.60,411.60 L198.80,411.60 Z" fill="#222" stroke="none"/>
<path d="M197.70,425.40 L198.80,429.90 L196.60,429.90 Z" fill="#222" stroke="none"/>
<line x1="197.70" y1="416.10" x2="203.70" y2="416.10" stroke="#3c3c3c" stroke-width="0.8"/>
<line x1="197.70" y1="425.40" x2="214.20" y2="425.40" stroke="#3c3c3c" stroke-width="0.8"/>
<text x="197" y="420.7" font-size="9.5" text-anchor="middle" fill="#1e1e1e" stroke="#1e1e1e" stroke-width="0.25" font-weight="bold" textLength="7.4" lengthAdjust="spacingAndGlyphs" transform="rotate(-90 197 420.7)">45</text>
<line x1="245.40" y1="378.20" x2="290.50" y2="378.20" stroke="#3c3c3c" stroke-width="0.8"/>
<line x1="255.40" y1="409.20" x2="290.50" y2="409.20" stroke="#3c3c3c" stroke-width="0.8"/>
<line x1="289.50" y1="378.20" x2="289.50" y2="409.20" stroke="#3c3c3c" stroke-width="0.8"/>
<path d="M289.50,378.20 L290.60,382.70 L288.40,382.70 Z" fill="#222" stroke="none"/>
<path d="M289.50,409.20 L288.40,404.70 L290.60,404.70 Z" fill="#222" stroke="none"/>
<text x="287.5" y="393.7" font-size="9" text-anchor="middle" fill="#1e1e1e" stroke="#1e1e1e" stroke-width="0.25" font-weight="bold" textLength="14.5" lengthAdjust="spacingAndGlyphs" transform="rotate(-90 287.5 393.7)">Ø150</text>
<line x1="245.40" y1="372.30" x2="304.00" y2="372.30" stroke="#3c3c3c" stroke-width="0.8"/>
<line x1="255.40" y1="415.10" x2="304.00" y2="415.10" stroke="#3c3c3c" stroke-width="0.8"/>
<line x1="303.00" y1="372.30" x2="303.00" y2="415.10" stroke="#3c3c3c" stroke-width="0.8"/>
<path d="M303.00,372.30 L304.10,376.80 L301.90,376.80 Z" fill="#222" stroke="none"/>
<path d="M303.00,415.10 L301.90,410.60 L304.10,410.60 Z" fill="#222" stroke="none"/>
<text x="300.5" y="393.7" font-size="9" text-anchor="middle" fill="#1e1e1e" stroke="#1e1e1e" stroke-width="0.25" font-weight="bold" textLength="14.5" lengthAdjust="spacingAndGlyphs" transform="rotate(-90 300.5 393.7)">Ø180</text>
<line x1="245.40" y1="366.90" x2="317.20" y2="366.90" stroke="#3c3c3c" stroke-width="0.8"/>
<line x1="255.40" y1="420.50" x2="317.20" y2="420.50" stroke="#3c3c3c" stroke-width="0.8"/>
<line x1="316.20" y1="366.90" x2="316.20" y2="420.50" stroke="#3c3c3c" stroke-width="0.8"/>
<path d="M316.20,366.90 L317.30,371.40 L315.10,371.40 Z" fill="#222" stroke="none"/>
<path d="M316.20,420.50 L315.10,416.00 L317.30,416.00 Z" fill="#222" stroke="none"/>
<text x="314" y="393.7" font-size="9" text-anchor="middle" fill="#1e1e1e" stroke="#1e1e1e" stroke-width="0.25" font-weight="bold" textLength="14.5" lengthAdjust="spacingAndGlyphs" transform="rotate(-90 314 393.7)">Ø220</text>
<line x1="235.00" y1="405.00" x2="235.00" y2="445.00" stroke="#3c3c3c" stroke-width="0.8"/>
<line x1="256.20" y1="405.00" x2="256.20" y2="445.00" stroke="#3c3c3c" stroke-width="0.8"/>
<line x1="235.00" y1="443.60" x2="256.20" y2="443.60" stroke="#3c3c3c" stroke-width="0.8"/>
<path d="M235.00,443.60 L238.50,442.50 L238.50,444.70 Z" fill="#222" stroke="none"/>
<path d="M256.20,443.60 L252.70,444.70 L252.70,442.50 Z" fill="#222" stroke="none"/>
<text x="245" y="441.2" font-size="9" text-anchor="middle" fill="#1e1e1e" stroke="#1e1e1e" stroke-width="0.25" font-weight="bold" textLength="14.8" lengthAdjust="spacingAndGlyphs">Ø100</text>
<line x1="210.80" y1="456.20" x2="280.60" y2="456.20" stroke="#3c3c3c" stroke-width="0.8"/>
<path d="M210.80,456.20 L215.30,455.10 L215.30,457.30 Z" fill="#222" stroke="none"/>
<path d="M280.60,456.20 L276.10,457.30 L276.10,455.10 Z" fill="#222" stroke="none"/>
<text x="245.5" y="453.7" font-size="9" text-anchor="middle" fill="#1e1e1e" stroke="#1e1e1e" stroke-width="0.25" font-weight="bold" textLength="11" lengthAdjust="spacingAndGlyphs">266</text>
<line x1="203.70" y1="470.20" x2="287.00" y2="470.20" stroke="#3c3c3c" stroke-width="0.8"/>
<path d="M203.70,470.20 L208.20,469.10 L208.20,471.30 Z" fill="#222" stroke="none"/>
<path d="M287.00,470.20 L282.50,471.30 L282.50,469.10 Z" fill="#222" stroke="none"/>
<text x="245.5" y="468.1" font-size="9" text-anchor="middle" fill="#1e1e1e" stroke="#1e1e1e" stroke-width="0.25" font-weight="bold" textLength="13" lengthAdjust="spacingAndGlyphs">330</text>
<line x1="291.00" y1="346.40" x2="313.50" y2="346.40" stroke="#3c3c3c" stroke-width="0.8"/>
<line x1="291.00" y1="346.40" x2="256.00" y2="372.30" stroke="#3c3c3c" stroke-width="0.8"/>
<path d="M256.00,372.30 L259.31,368.36 L260.73,370.29 Z" fill="#222" stroke="none"/>
<text x="302.5" y="343.5" font-size="9" text-anchor="middle" fill="#1e1e1e" stroke="#1e1e1e" stroke-width="0.25" font-weight="bold" textLength="21" lengthAdjust="spacingAndGlyphs">8×Ø18</text>
<line x1="189.20" y1="373.70" x2="206.00" y2="373.70" stroke="#3c3c3c" stroke-width="0.8"/>
<line x1="206.00" y1="373.70" x2="214.00" y2="388.50" stroke="#3c3c3c" stroke-width="0.8"/>
<path d="M214.00,388.50 L210.57,384.67 L212.68,383.53 Z" fill="#222" stroke="none"/>
<text x="196.2" y="371.7" font-size="9" text-anchor="middle" fill="#1e1e1e" stroke="#1e1e1e" stroke-width="0.25" font-weight="bold" textLength="8.4" lengthAdjust="spacingAndGlyphs">G½</text>
<line x1="280.00" y1="425.00" x2="296.00" y2="444.00" stroke="#3c3c3c" stroke-width="0.8"/>
<path d="M280.00,425.00 L284.14,428.05 L282.30,429.60 Z" fill="#222" stroke="none"/>
<line x1="296.00" y1="444.00" x2="320.00" y2="444.00" stroke="#3c3c3c" stroke-width="0.8"/>
<text x="308" y="442" font-size="9" text-anchor="middle" fill="#1e1e1e" stroke="#1e1e1e" stroke-width="0.25" font-weight="bold" textLength="22" lengthAdjust="spacingAndGlyphs">4×Ø14</text>
</g>
</svg>
</body></html>
